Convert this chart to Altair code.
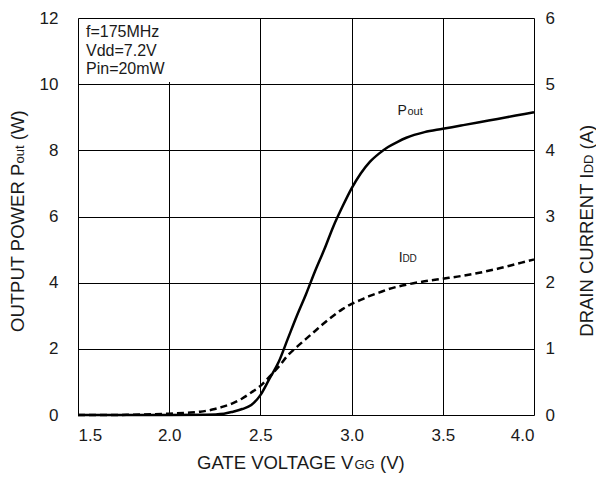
import altair as alt
import pandas as pd

# Output power Pout (W) vs gate voltage VGG (V)
vgg_p = [1.5, 1.8, 2.0, 2.2, 2.3, 2.35, 2.4, 2.45, 2.5, 2.55, 2.6, 2.65, 2.7, 2.75,
         2.8, 2.85, 2.9, 2.95, 3.0, 3.05, 3.1, 3.15, 3.2, 3.25, 3.3, 3.4, 3.5,
         3.6, 3.7, 3.8, 3.9, 4.0]
pout = [0.0, 0.0, 0.0, 0.01, 0.04, 0.1, 0.18, 0.3, 0.6, 1.1, 1.6, 2.3, 3.0, 3.65,
        4.35, 5.0, 5.7, 6.3, 6.85, 7.3, 7.65, 7.9, 8.1, 8.25, 8.38, 8.55, 8.65,
        8.75, 8.85, 8.95, 9.05, 9.15]

# Drain current IDD (A) vs gate voltage VGG (V)
vgg_i = [1.5, 1.7, 1.8, 1.9, 2.0, 2.1, 2.17, 2.25, 2.3, 2.35, 2.4, 2.45, 2.5, 2.55,
         2.6, 2.65, 2.7, 2.75, 2.8, 2.85, 2.9, 2.95, 3.0, 3.05, 3.1, 3.15, 3.2,
         3.3, 3.4, 3.5, 3.6, 3.7, 3.8, 3.9, 4.0]
idd = [0.0, 0.0, 0.005, 0.01, 0.02, 0.035, 0.05, 0.09, 0.13, 0.18, 0.25, 0.34, 0.44,
       0.58, 0.73, 0.9, 1.03, 1.15, 1.27, 1.39, 1.5, 1.6, 1.68, 1.74, 1.8, 1.85,
       1.9, 1.97, 2.02, 2.06, 2.1, 2.15, 2.21, 2.28, 2.35]

x_ticks = [1.5, 2.0, 2.5, 3.0, 3.5, 4.0]
left_ticks = [0, 2, 4, 6, 8, 10, 12]
right_ticks = [0, 1, 2, 3, 4, 5, 6]
conditions = ["f=175MHz", "Vdd=7.2V", "Pin=20mW"]

FONT = "Liberation Sans"
TXT = "#1a1a1a"

df_p = pd.DataFrame({"vgg": vgg_p, "pout": pout})
df_i = pd.DataFrame({"vgg": vgg_i, "idd": idd})
one = pd.DataFrame({"k": [0]})

xscale = alt.Scale(domain=[1.5, 4.0], nice=False, zero=False)
xaxis = alt.Axis(values=x_ticks, format=".1f", title=None, grid=True,
                 ticks=False, domain=False, labelPadding=12,
                 labelFontSize=17, labelFont=FONT, labelColor=TXT,
                 gridColor="black", gridWidth=1, gridOpacity=1)

line_p = alt.Chart(df_p).mark_line(
    color="black", strokeWidth=2.5, interpolate="monotone"
).encode(
    x=alt.X("vgg:Q", scale=xscale, axis=xaxis),
    y=alt.Y("pout:Q", scale=alt.Scale(domain=[0, 12], nice=False),
            axis=alt.Axis(orient="left", values=left_ticks, title=None, grid=True,
                          ticks=False, domain=False, labelPadding=20,
                          labelFontSize=17, labelFont=FONT, labelColor=TXT,
                          gridColor="black", gridWidth=1, gridOpacity=1)),
)

line_i = alt.Chart(df_i).mark_line(
    color="black", strokeWidth=2.5, strokeDash=[7, 4], interpolate="monotone"
).encode(
    x=alt.X("vgg:Q", scale=xscale, axis=xaxis),
    y=alt.Y("idd:Q", scale=alt.Scale(domain=[0, 6], nice=False),
            axis=alt.Axis(orient="right", values=right_ticks, title=None, grid=False,
                          ticks=False, domain=False, labelPadding=11,
                          labelFontSize=17, labelFont=FONT, labelColor=TXT)),
)

box = alt.Chart(one).mark_rect(color="white").encode(
    x=alt.value(1), x2=alt.value(95), y=alt.value(1), y2=alt.value(64)
)

cond_text = alt.Chart(one).mark_text(
    text=conditions, align="left", baseline="alphabetic", fontSize=16,
    font=FONT, color=TXT, lineHeight=18.5
).encode(x=alt.value(8), y=alt.value(19))


def txt(s, x, y, size, angle=0):
    return alt.Chart(one).mark_text(
        text=s, align="left", baseline="alphabetic", fontSize=size,
        font=FONT, color=TXT, angle=angle
    ).encode(x=alt.value(x), y=alt.value(y))


T, S = 18.5, 13
labels = [
    # curve labels
    txt("P", 319.5, 97, 14), txt("out", 329.5, 97, 11),
    txt("I", 320.8, 244, 14), txt("DD", 324.4, 244, 10),
    # x axis title
    txt("GATE VOLTAGE V", 119, 451, T), txt("GG", 276.5, 451, S),
    txt("(V)", 302, 451, T),
    # left axis title
    txt("OUTPUT POWER P", -54.5, 314, T, 270), txt("out", -54.5, 145.4, S, 270),
    txt("(W)", -54.5, 122.2, T, 270),
    # right axis title
    txt("DRAIN CURRENT I", 515, 318.7, T, 270), txt("DD", 515, 155.3, S, 270),
    txt("(A)", 515, 131.4, T, 270),
]

chart = alt.layer(line_p, line_i, box, cond_text, *labels).resolve_scale(
    y="independent"
).properties(
    width=456, height=397,
    autosize=alt.AutoSizeParams(type="none"),
    padding={"left": 70, "top": 10, "right": 62, "bottom": 59},
).configure_view(
    stroke="black", strokeWidth=1
).configure(background="white")

chart.save("out.html", embed_options={"renderer": "svg", "actions": False})
